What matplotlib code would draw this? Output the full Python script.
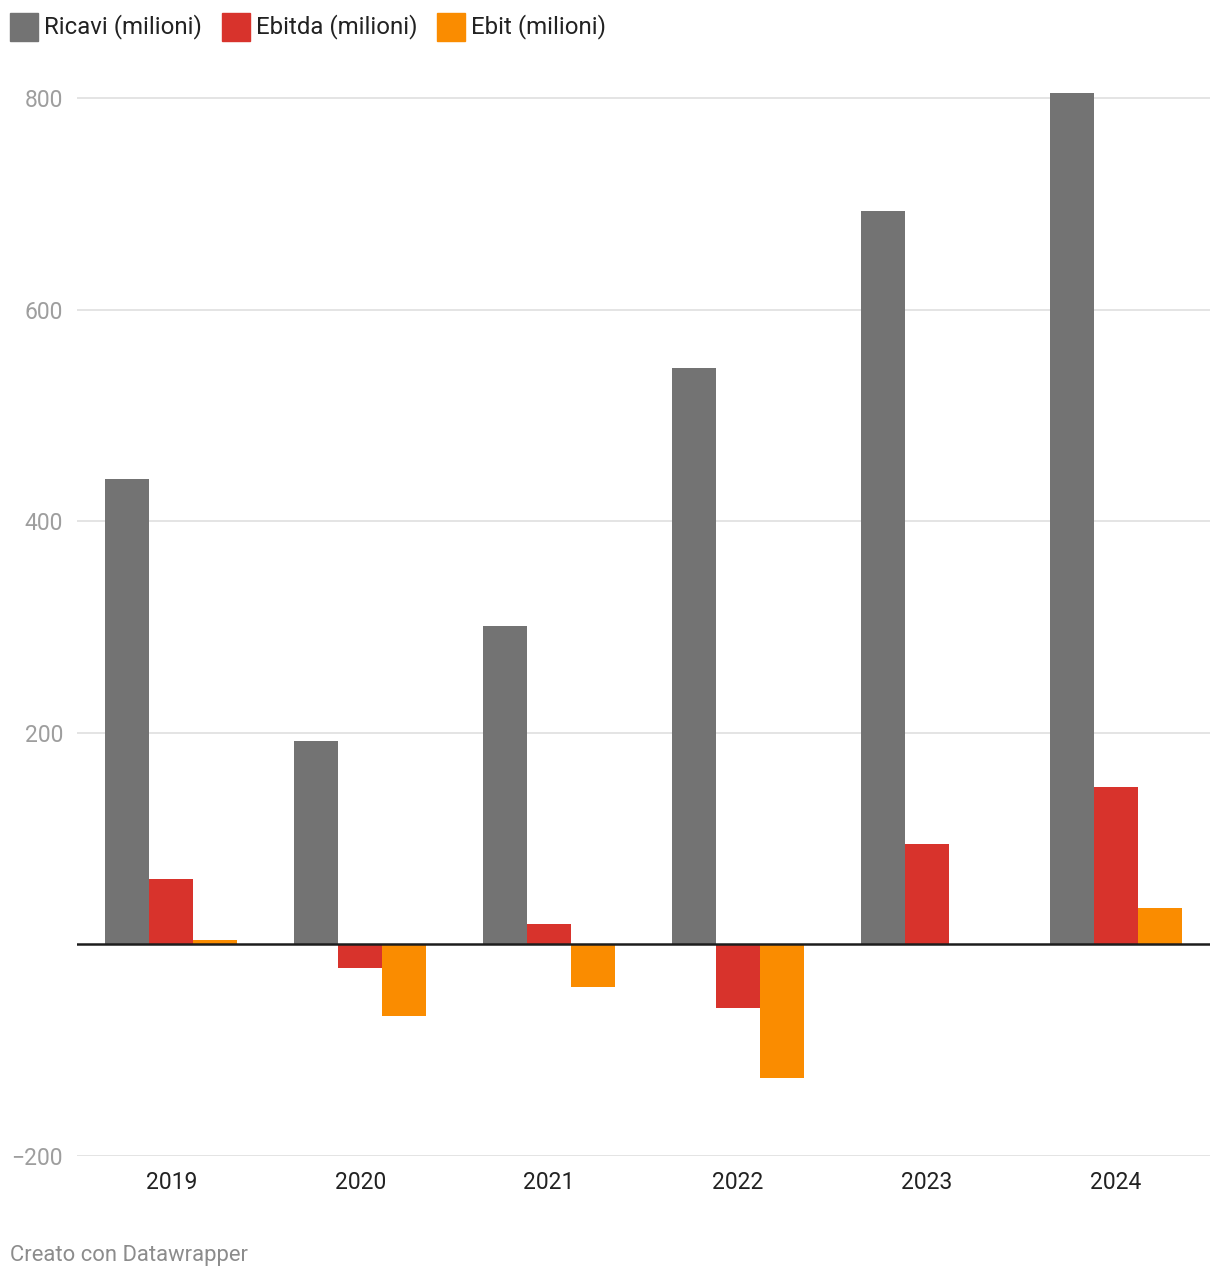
"""Grouped bar chart: Ricavi, Ebitda, Ebit (milioni) 2019-2024."""
import matplotlib
matplotlib.use("Agg")
import matplotlib.pyplot as plt
from matplotlib.patches import Rectangle
import numpy as np

plt.rcParams["font.family"] = ["Roboto", "DejaVu Sans"]

years = ["2019", "2020", "2021", "2022", "2023", "2024"]
ricavi = [440, 192, 301, 545, 693, 805]
ebitda = [61.5, -22.5, 19, -60.5, 95, 148.5]
ebit = [4.5, -68, -40.5, -126, 0, 34]
series_names = ["Ricavi (milioni)", "Ebitda (milioni)", "Ebit (milioni)"]
colors = ["#737373", "#d8332c", "#fa8c00"]
y_ticks = [-200, 200, 400, 600, 800]
y_tick_labels = ["\u2212200", "200", "400", "600", "800"]

W, H = 1220, 1278
fig = plt.figure(figsize=(W / 100, H / 100), dpi=100)

# axes placement in pixels
left, right = 77, 1210
ymin, ymax = -200, 810
y_bottom_px = 1156
px_per_unit = (1156 - 98) / 1000
y_top_px = y_bottom_px - (ymax - ymin) * px_per_unit
ax = fig.add_axes([left / W, 1 - y_bottom_px / H, (right - left) / W,
                   (y_bottom_px - y_top_px) / H])

x = np.arange(len(years))
bw = 44 / 189
for i, (vals, c) in enumerate(zip([ricavi, ebitda, ebit], colors)):
    ax.bar(x + (i - 1) * bw, vals, width=bw, color=c, zorder=3, linewidth=0)

ax.set_xlim(-0.5, len(years) - 0.5)
ax.set_ylim(ymin, ymax)
for t in [-200, 200, 400, 600, 800]:
    ax.axhline(t, color="#e2e2e2", linewidth=1.3, zorder=1)
ax.axhline(0, color="#1d1d1d", linewidth=1.8, zorder=4)

for s in ax.spines.values():
    s.set_visible(False)
ax.set_yticks(y_ticks)
ax.set_yticklabels(y_tick_labels)
ax.tick_params(axis="y", length=0, pad=10, labelsize=16.5, labelcolor="#9e9e9e")
ax.set_xticks(x)
ax.set_xticklabels(years)
ax.tick_params(axis="x", length=0, pad=11, labelsize=16.5, labelcolor="#222222")

# legend, drawn by hand at the top
fig.canvas.draw()
renderer = fig.canvas.get_renderer()
sq = 28
xpos = 10
for name, c in zip(series_names, colors):
    fig.patches.append(Rectangle((xpos / W, 1 - 41 / H), sq / W, sq / H,
                                 transform=fig.transFigure, color=c))
    t = fig.text((xpos + sq + 6) / W, 1 - 27 / H, name, fontsize=17.3,
                 color="#222222", va="center", ha="left")
    bb = t.get_window_extent(renderer)
    xpos = bb.x1 + 20

fig.text(10 / W, 1 - 1255 / H, "Creato con Datawrapper", fontsize=15.8,
         color="#8c8c8c", va="center", ha="left")

fig.savefig("out.png", dpi=100)
